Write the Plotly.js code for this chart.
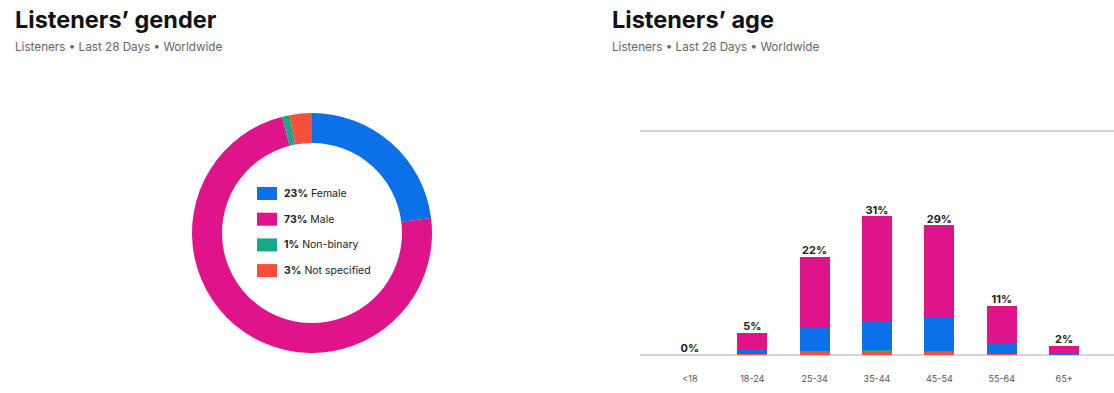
<!DOCTYPE html>
<html>
<head>
<meta charset="utf-8">
<script src="https://cdn.plot.ly/plotly-3.0.1.min.js"></script>
<style>
html,body{margin:0;padding:0;background:#fff;}
#chart{width:1114px;height:393px;}
</style>
</head>
<body>
<div id="chart"></div>
<script>
// ---- data ----
const genderLabels = ["Female", "Male", "Non-binary", "Not specified"];
const genderValues = [23, 73, 1, 3];
const genderColors = ["#0C70E6", "#DF138A", "#17A986", "#F5503B"];

const ageGroups = ["<18", "18-24", "25-34", "35-44", "45-54", "55-64", "65+"];
const ageTotals = [0, 5, 22, 31, 29, 11, 2];
const ageNotSpecified = [0, 0.2, 0.9, 0.9, 0.8, 0.3, 0.1];
const ageNonBinary   = [0, 0,   0.1, 0.2, 0.1, 0,   0];
const ageFemale      = [0, 1.2, 5.1, 6.5, 7.4, 2.4, 0.4];
const ageMale        = [0, 3.6, 15.9, 23.4, 20.7, 8.3, 1.5];

const titleGender = "Listeners’ gender";
const titleAge = "Listeners’ age";
const subtitle = "Listeners • Last 28 Days • Worldwide";

// ---- layout helpers ----
const W = 1114, H = 393;
const px = x => x / W;
const py = y => 1 - y / H;

const FONT = "Inter, 'Open Sans', sans-serif";

const stackTop = ageGroups.map((_, i) =>
  ageNotSpecified[i] + ageNonBinary[i] + ageFemale[i] + ageMale[i]);

const traces = [
  {
    type: "pie",
    labels: genderLabels,
    values: genderValues,
    marker: {colors: genderColors, line: {width: 0}},
    hole: 0.75,
    sort: false,
    direction: "clockwise",
    rotation: 0,
    textinfo: "none",
    showlegend: false,
    domain: {x: [px(192), px(432)], y: [py(353), py(113)]}
  },
  {type: "bar", name: "Not specified", x: ageGroups, y: ageNotSpecified,
   marker: {color: genderColors[3]}, xaxis: "x", yaxis: "y", showlegend: false},
  {type: "bar", name: "Non-binary", x: ageGroups, y: ageNonBinary,
   marker: {color: genderColors[2]}, xaxis: "x", yaxis: "y", showlegend: false},
  {type: "bar", name: "Female", x: ageGroups, y: ageFemale,
   marker: {color: genderColors[0]}, xaxis: "x", yaxis: "y", showlegend: false},
  {type: "bar", name: "Male", x: ageGroups, y: ageMale,
   marker: {color: genderColors[1]}, xaxis: "x", yaxis: "y", showlegend: false},
  {type: "scatter", mode: "text", x: ageGroups, y: stackTop,
   text: ageTotals.map(v => "<b>" + v + "%</b>"),
   textposition: "top center",
   textfont: {family: FONT, size: 11, color: "#222"},
   hoverinfo: "skip", showlegend: false, cliponaxis: false}
];

const shapes = [];
const annotations = [];

// legend inside donut
const legendY0 = 193.5, legendStep = 25.7;
genderLabels.forEach((lab, i) => {
  const cy = legendY0 + i * legendStep;
  shapes.push({type: "rect", xref: "paper", yref: "paper",
    x0: px(257), x1: px(277), y0: py(cy - 6.5), y1: py(cy + 6.5),
    fillcolor: genderColors[i], line: {width: 0}});
  annotations.push({xref: "paper", yref: "paper", x: px(282), y: py(cy),
    xanchor: "left", yanchor: "middle", showarrow: false,
    text: "<b>" + genderValues[i] + "%</b> " + lab,
    font: {family: FONT, size: 10.5, color: "#222"}});
});

// titles
[[13, titleGender], [610, titleAge]].forEach(([x, t]) => {
  annotations.push({xref: "paper", yref: "paper", x: px(x), y: py(19),
    xanchor: "left", yanchor: "middle", showarrow: false, text: "<b>" + t + "</b>",
    font: {family: FONT, size: 23.5, color: "#121212", weight: 800}});
  annotations.push({xref: "paper", yref: "paper", x: px(x), y: py(47),
    xanchor: "left", yanchor: "middle", showarrow: false, text: subtitle,
    font: {family: FONT, size: 11.7, color: "#666"}});
});

const layout = {
  width: W, height: H,
  margin: {l: 0, r: 0, t: 0, b: 0},
  paper_bgcolor: "#fff", plot_bgcolor: "#fff",
  barmode: "stack",
  bargap: 0.52,
  xaxis: {domain: [px(640), 1], range: [-0.8, 6.8], type: "category",
    showgrid: false, zeroline: false, showline: false,
    ticks: "", ticklabelstandoff: 16,
    tickfont: {family: FONT, size: 9, color: "#555"}, fixedrange: true},
  yaxis: {domain: [py(356), py(130)], range: [-0.2, 50.3], tickvals: [50],
    showticklabels: false, showgrid: true, gridcolor: "#d4d4d4", gridwidth: 2,
    zeroline: true, zerolinecolor: "#d4d4d4", zerolinewidth: 2,
    showline: false, fixedrange: true},
  shapes: shapes,
  annotations: annotations,
  hovermode: false
};

Plotly.newPlot("chart", traces, layout, {displayModeBar: false, staticPlot: true});
</script>
</body>
</html>
